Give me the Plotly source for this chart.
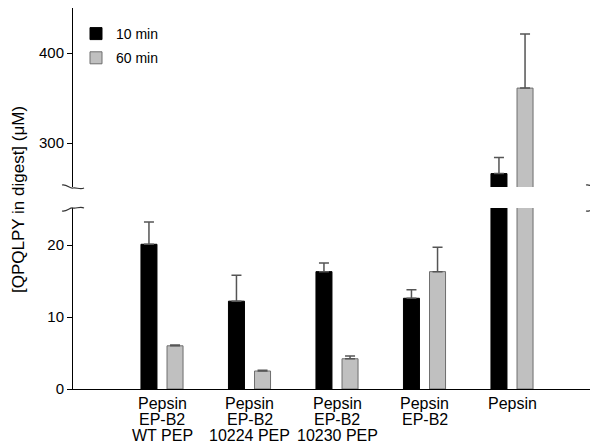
import plotly.graph_objects as go

# ---- data ----
categories = [
    ["Pepsin", "EP-B2", "WT PEP"],
    ["Pepsin", "EP-B2", "10224 PEP"],
    ["Pepsin", "EP-B2", "10230 PEP"],
    ["Pepsin", "EP-B2"],
    ["Pepsin"],
]
series_names = ["10 min", "60 min"]
min10 = [20.1, 12.2, 16.3, 12.6, 266]
min10_err = [3.1, 3.6, 1.2, 1.2, 18]
min60 = [6.0, 2.5, 4.2, 16.3, 361]
min60_err = [0.1, 0.1, 0.4, 3.4, 60]
lower_ticks = [0, 10, 20]
upper_ticks = [300, 400]
ytitle = "[QPQLPY in digest] (\u03bcM)"

# ---- layout constants (reference pixels; page body adds an 8px offset) ----
O = 8
W, H = 598 - O, 448 - O
L, R, T, B = 73 - O, 1, 8 - O, 59
PW, PH = W - L - R, H - T - B
y_break_top, y_break_bot = 187, 208  # reference pixel rows of the break


def py2paper(py):
    return (448 - B - py) / PH


def px2paper(px):
    return (px - 73) / PW


idx = list(range(len(categories)))
off, bw = 0.149, 0.183
x10 = [i - off for i in idx]
x60 = [i + off for i in idx]
zeros = [0] * len(idx)

FONT = "Liberation Sans, Arial, sans-serif"
err_style = dict(type="data", symmetric=False, color="#555555", thickness=1.5, width=5)

fig = go.Figure()
for yax, xax, show in [("y", "x", True), ("y2", "x2", False)]:
    fig.add_trace(go.Bar(
        x=x10, y=min10, width=bw, name=series_names[0], legendgroup="a",
        marker=dict(color="#000000", line=dict(color="#000000", width=1)),
        error_y=dict(array=min10_err, arrayminus=zeros, **err_style),
        xaxis=xax, yaxis=yax, showlegend=show))
    fig.add_trace(go.Bar(
        x=x60, y=min60, width=bw, name=series_names[1], legendgroup="b",
        marker=dict(color="#c0c0c0", line=dict(color="#6e6e6e", width=1)),
        error_y=dict(array=min60_err, arrayminus=zeros, **err_style),
        xaxis=xax, yaxis=yax, showlegend=show))

xrange = [-(162 - 73) / 87.5, (597 - 162) / 87.5]
common_y = dict(showline=True, linecolor="#000000", linewidth=1, mirror=True,
                ticks="outside", ticklen=5, tickcolor="#000000", showgrid=False,
                zeroline=False, tickfont=dict(family=FONT, size=15, color="#000000"))

fig.update_layout(
    width=W, height=H,
    margin=dict(l=L, r=R, t=T, b=B, pad=0),
    paper_bgcolor="white", plot_bgcolor="white",
    barmode="overlay",
    font=dict(family=FONT, size=15, color="#000000"),
    xaxis=dict(range=xrange, anchor="y", showline=True, linecolor="#000000",
               linewidth=1, showticklabels=False, ticks="", showgrid=False,
               zeroline=False),
    xaxis2=dict(range=xrange, anchor="y2", matches="x", side="top", showline=True,
                linecolor="#000000", linewidth=1, showticklabels=False, ticks="",
                showgrid=False, zeroline=False),
    yaxis=dict(domain=[0, py2paper(y_break_bot)], range=[0, (389 - y_break_bot) / 7.2],
               tickvals=lower_ticks, **common_y),
    yaxis2=dict(domain=[py2paper(y_break_top), 1],
                range=[400 - (y_break_top - 53) / 0.9, 400 + (53 - 8) / 0.9],
                tickvals=upper_ticks, anchor="x2", **common_y),
    legend=dict(x=px2paper(76), y=py2paper(18), xanchor="left", yanchor="top",
                font=dict(family=FONT, size=14, color="#000000"),
                bgcolor="rgba(0,0,0,0)", traceorder="grouped", tracegroupgap=3),
)

# category labels, one annotation per line
for i, lines in zip(idx, categories):
    for k, line in enumerate(lines):
        fig.add_annotation(x=i, xref="x", y=0, yref="paper", yanchor="top",
                           yshift=-4 - 16 * k, text=line, showarrow=False,
                           font=dict(family=FONT, size=16, color="#000000"))

fig.add_annotation(x=px2paper(18), xref="paper", y=py2paper(200), yref="paper",
                   text=ytitle, textangle=-90, showarrow=False,
                   xanchor="center", yanchor="middle",
                   font=dict(family=FONT, size=17, color="#000000"))


# axis-break marks
def mark(cx, cy, flip):
    s = -1 if flip else 1
    pts = [(cx - 11, cy - 2 * s), (cx - 6, cy - 3 * s), (cx - 3, cy + 2 * s), (cx, cy + 1 * s),
           (cx + 3, cy), (cx + 7, cy + 3 * s), (cx + 11, cy + 1 * s)]
    p0 = pts[0]
    d = f"M{px2paper(p0[0])},{py2paper(p0[1])}"
    d += (f" C{px2paper(pts[1][0])},{py2paper(pts[1][1])} {px2paper(pts[2][0])},{py2paper(pts[2][1])}"
          f" {px2paper(pts[3][0])},{py2paper(pts[3][1])}")
    d += (f" C{px2paper(pts[4][0])},{py2paper(pts[4][1])} {px2paper(pts[5][0])},{py2paper(pts[5][1])}"
          f" {px2paper(pts[6][0])},{py2paper(pts[6][1])}")
    fig.add_shape(type="path", path=d, xref="paper", yref="paper",
                  line=dict(color="#333333", width=1.2))


for cx in (73, 597):
    mark(cx, y_break_top, False)
    mark(cx, y_break_bot + 1, True)

fig.write_html("out.html")
